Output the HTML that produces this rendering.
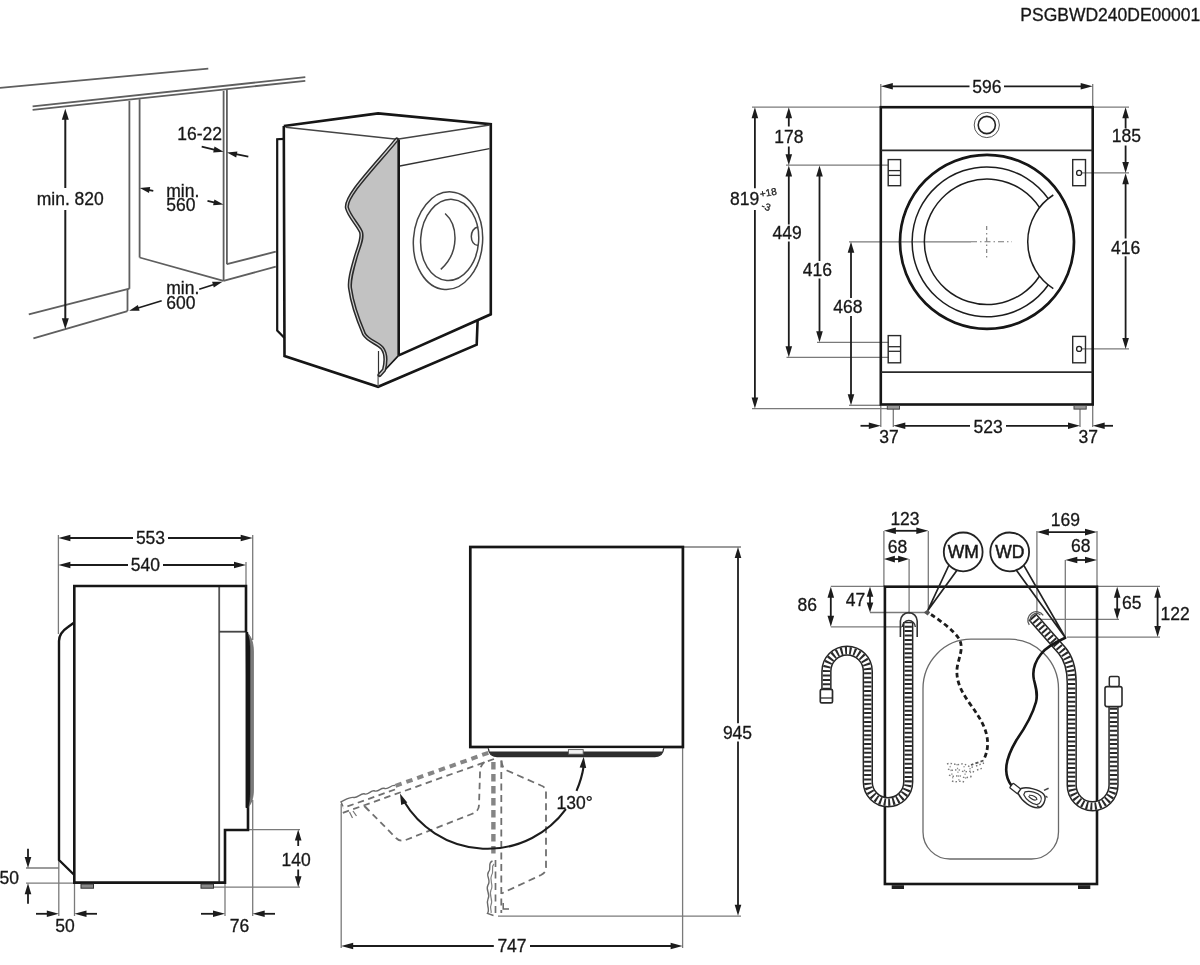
<!DOCTYPE html>
<html><head><meta charset="utf-8"><title>Dimensions</title>
<style>
html,body{margin:0;padding:0;background:#fff;}
body{width:1200px;height:965px;overflow:hidden;}
svg{display:block;}
text{font-family:"Liberation Sans",sans-serif;fill:#181818;stroke:#181818;stroke-width:0.3px;}
</style></head><body>
<svg width="1200" height="965" viewBox="0 0 1200 965">
<defs><filter id="soft" filterUnits="userSpaceOnUse" x="0" y="0" width="1200" height="965"><feGaussianBlur stdDeviation="0.5"/></filter></defs>
<rect width="1200" height="965" fill="#fff"/>
<g filter="url(#soft)">
<rect width="1200" height="965" fill="#fff"/>
<text x="1020.3" y="21.3" font-size="17.5" text-anchor="start" >PSGBWD240DE00001</text>
<g id="p1">
<line x1="0.0" y1="87.8" x2="208.3" y2="68.7" stroke="#5e5e5e" stroke-width="1.8" />
<line x1="32.6" y1="106.3" x2="305.3" y2="77.2" stroke="#5e5e5e" stroke-width="1.8" />
<line x1="32.6" y1="109.9" x2="305.3" y2="80.8" stroke="#5e5e5e" stroke-width="1.8" />
<line x1="129.4" y1="100.8" x2="129.4" y2="288.8" stroke="#5e5e5e" stroke-width="1.8" />
<line x1="127.5" y1="289.0" x2="127.5" y2="311.0" stroke="#5e5e5e" stroke-width="1.8" />
<line x1="28.8" y1="314.3" x2="129.4" y2="288.7" stroke="#5e5e5e" stroke-width="1.8" />
<line x1="33.4" y1="338.3" x2="127.5" y2="311.1" stroke="#5e5e5e" stroke-width="1.8" />
<line x1="139.6" y1="99.2" x2="139.6" y2="257.5" stroke="#5e5e5e" stroke-width="1.8" />
<line x1="139.6" y1="257.5" x2="223.5" y2="280.8" stroke="#5e5e5e" stroke-width="1.8" />
<line x1="223.6" y1="90.8" x2="223.6" y2="280.8" stroke="#5e5e5e" stroke-width="1.8" />
<line x1="226.9" y1="90.0" x2="226.9" y2="264.2" stroke="#5e5e5e" stroke-width="1.8" />
<line x1="226.9" y1="264.2" x2="275.8" y2="251.7" stroke="#5e5e5e" stroke-width="1.8" />
<line x1="223.5" y1="280.8" x2="275.8" y2="266.7" stroke="#5e5e5e" stroke-width="1.8" />
<line x1="65.3" y1="118.0" x2="65.3" y2="188.0" stroke="#1c1c1c" stroke-width="2.0" />
<line x1="65.3" y1="210.0" x2="65.3" y2="319.0" stroke="#1c1c1c" stroke-width="2.0" />
<polygon points="65.3,108.8 68.8,119.8 61.8,119.8" fill="#1c1c1c"/>
<polygon points="65.3,329.3 61.8,318.3 68.8,318.3" fill="#1c1c1c"/>
<text x="36.7" y="204.6" font-size="17.5" text-anchor="start" >min. 820</text>
<text x="177.3" y="140.4" font-size="17.5" text-anchor="start" >16-22</text>
<line x1="201.7" y1="146.7" x2="215.0" y2="149.8" stroke="#1c1c1c" stroke-width="1.7" />
<polygon points="223.6,151.7 213.2,152.4 214.5,146.5" fill="#1c1c1c"/>
<line x1="248.3" y1="156.7" x2="236.0" y2="154.2" stroke="#1c1c1c" stroke-width="1.7" />
<polygon points="227.0,152.4 237.4,151.5 236.2,157.4" fill="#1c1c1c"/>
<text x="166.3" y="196.5" font-size="17.5" text-anchor="start" >min.</text>
<text x="166.3" y="211.3" font-size="17.5" text-anchor="start" >560</text>
<line x1="153.3" y1="190.8" x2="148.0" y2="189.8" stroke="#1c1c1c" stroke-width="1.7" />
<polygon points="139.8,188.0 150.2,187.1 149.0,193.0" fill="#1c1c1c"/>
<line x1="207.5" y1="200.8" x2="215.0" y2="202.6" stroke="#1c1c1c" stroke-width="1.7" />
<polygon points="223.5,204.6 213.1,205.3 214.4,199.4" fill="#1c1c1c"/>
<text x="166.3" y="294.2" font-size="17.5" text-anchor="start" >min.</text>
<text x="166.3" y="309.3" font-size="17.5" text-anchor="start" >600</text>
<line x1="138.0" y1="308.0" x2="161.7" y2="300.8" stroke="#1c1c1c" stroke-width="1.7" />
<polygon points="129.2,310.8 137.9,305.0 139.6,310.7" fill="#1c1c1c"/>
<line x1="199.2" y1="289.2" x2="214.0" y2="284.5" stroke="#1c1c1c" stroke-width="1.7" />
<polygon points="222.5,281.7 213.8,287.5 212.1,281.8" fill="#1c1c1c"/>
<path d="M284.5,138.8 L277.2,139.2 L277.2,330.5 L284.5,338" stroke="#141414" stroke-width="2.2" fill="none" />
<path d="M396.8,139.5 C385,154 368,172 356,188 C348,199 346,204 347,208 C349,216 358,225 361,232 C363,238 359,246 356,256 C352,270 349,280 350,288 C352,303 358,320 364,334 C368,341 378,343 382,348 C386,353 386,362 384,370 L381,374 L398.7,355.4 L398.7,139.5 Z" stroke="none" stroke-width="0" fill="#c2c2c2" />
<path d="M283.8,126 L378.1,113.4 L490.8,124.3 L490.8,314.3 L398.7,355.4" stroke="#141414" stroke-width="2.6" fill="none" stroke-linejoin="miter"/>
<path d="M283.8,126 L284.5,356 L378.1,386.8 L476.7,344.6 L477.6,320.5" stroke="#141414" stroke-width="2.6" fill="none" stroke-linejoin="miter"/>
<line x1="398.7" y1="139.5" x2="398.7" y2="355.4" stroke="#141414" stroke-width="2.6" />
<line x1="285.5" y1="127.2" x2="397.0" y2="139.2" stroke="#444" stroke-width="1.4" />
<line x1="397.0" y1="139.2" x2="489.7" y2="125.0" stroke="#444" stroke-width="1.4" />
<line x1="399.8" y1="166.0" x2="489.5" y2="148.6" stroke="#333" stroke-width="1.3" />
<line x1="378.1" y1="375.0" x2="378.1" y2="386.8" stroke="#555" stroke-width="1.2" />
<line x1="398.7" y1="355.4" x2="384.0" y2="371.0" stroke="#141414" stroke-width="1.6" />
<path d="M396.8,139.5 C385,154 368,172 356,188 C348,199 346,204 347,208 C349,216 358,225 361,232 C363,238 359,246 356,256 C352,270 349,280 350,288 C352,303 358,320 364,334 C368,341 378,343 382,348 C386,353 386,362 384,370 L379.5,375" stroke="#2a2a2a" stroke-width="4.2" fill="none" stroke-linejoin="round" stroke-linecap="round"/>
<path d="M396.8,139.5 C385,154 368,172 356,188 C348,199 346,204 347,208 C349,216 358,225 361,232 C363,238 359,246 356,256 C352,270 349,280 350,288 C352,303 358,320 364,334 C368,341 378,343 382,348 C386,353 386,362 384,370 L379.5,375" stroke="#d0d0d0" stroke-width="1.2" fill="none" stroke-linejoin="round"/>
<line x1="378.5" y1="351.0" x2="378.5" y2="375.0" stroke="#333" stroke-width="1.2" />
<g transform="rotate(4 448 240.7)" fill="none" stroke="#444" stroke-width="1.5">
<ellipse cx="448" cy="240.7" rx="34.6" ry="48.9"/>
<ellipse cx="449.6" cy="239.8" rx="29" ry="40.6"/>
</g>
<path d="M445.1,213.5 C458,225 460,252 440.8,269.4" stroke="#444" stroke-width="1.5" fill="none" />
<path d="M478.2,227 C469,228 469,245 478.2,245.6" stroke="#444" stroke-width="1.5" fill="none" />
</g>
<g id="p2">
<line x1="880.8" y1="84.0" x2="880.8" y2="107.2" stroke="#7a7a7a" stroke-width="1.3" />
<line x1="1092.7" y1="84.0" x2="1092.7" y2="107.2" stroke="#7a7a7a" stroke-width="1.3" />
<line x1="752.0" y1="107.2" x2="880.8" y2="107.2" stroke="#7a7a7a" stroke-width="1.3" />
<line x1="1092.7" y1="107.2" x2="1129.0" y2="107.2" stroke="#7a7a7a" stroke-width="1.3" />
<line x1="786.0" y1="165.2" x2="888.0" y2="165.2" stroke="#7a7a7a" stroke-width="1.3" />
<line x1="817.0" y1="342.3" x2="888.6" y2="342.3" stroke="#7a7a7a" stroke-width="1.3" />
<line x1="786.5" y1="357.3" x2="888.6" y2="357.3" stroke="#7a7a7a" stroke-width="1.3" />
<line x1="849.0" y1="241.8" x2="971.0" y2="241.8" stroke="#7a7a7a" stroke-width="1.3" />
<line x1="849.0" y1="405.3" x2="880.8" y2="405.3" stroke="#7a7a7a" stroke-width="1.3" />
<line x1="752.0" y1="408.6" x2="899.0" y2="408.6" stroke="#7a7a7a" stroke-width="1.3" />
<line x1="1082.0" y1="172.9" x2="1129.0" y2="172.9" stroke="#7a7a7a" stroke-width="1.3" />
<line x1="1082.0" y1="348.9" x2="1129.0" y2="348.9" stroke="#7a7a7a" stroke-width="1.3" />
<line x1="880.8" y1="404.5" x2="880.8" y2="427.0" stroke="#7a7a7a" stroke-width="1.3" />
<line x1="893.3" y1="409.0" x2="893.3" y2="427.0" stroke="#7a7a7a" stroke-width="1.3" />
<line x1="1080.0" y1="409.0" x2="1080.0" y2="427.0" stroke="#7a7a7a" stroke-width="1.3" />
<line x1="1092.7" y1="404.5" x2="1092.7" y2="427.0" stroke="#7a7a7a" stroke-width="1.3" />
<rect x="880.8" y="107.2" width="211.9" height="297.3" fill="none" stroke="#141414" stroke-width="2.6"/>
<line x1="880.8" y1="150.4" x2="1092.7" y2="150.4" stroke="#2a2a2a" stroke-width="1.8" />
<line x1="880.8" y1="372.1" x2="1092.7" y2="372.1" stroke="#2a2a2a" stroke-width="1.8" />
<rect x="887.3" y="405.5" width="12.2" height="3.6" fill="#999" stroke="#444" stroke-width="1"/>
<rect x="1074" y="405.5" width="12.2" height="3.6" fill="#999" stroke="#444" stroke-width="1"/>
<circle cx="986.8" cy="125" r="12.6" fill="none" stroke="#555" stroke-width="1"/>
<circle cx="986.8" cy="125" r="8.6" fill="none" stroke="#222" stroke-width="1.6"/>
<rect x="888.2" y="159.6" width="12.4" height="26.1" fill="none" stroke="#2a2a2a" stroke-width="1.4"/>
<line x1="888.2" y1="170.6" x2="900.6" y2="170.6" stroke="#2a2a2a" stroke-width="1.3" />
<line x1="888.2" y1="175.4" x2="900.6" y2="175.4" stroke="#2a2a2a" stroke-width="1.3" />
<rect x="888.2" y="335.6" width="12.4" height="27.2" fill="none" stroke="#2a2a2a" stroke-width="1.4"/>
<line x1="888.2" y1="346.7" x2="900.6" y2="346.7" stroke="#2a2a2a" stroke-width="1.3" />
<line x1="888.2" y1="351.3" x2="900.6" y2="351.3" stroke="#2a2a2a" stroke-width="1.3" />
<rect x="1072.7" y="159.6" width="12.8" height="26.1" fill="none" stroke="#2a2a2a" stroke-width="1.4"/>
<circle cx="1079.1" cy="172.9" r="2.5" fill="none" stroke="#222" stroke-width="1.3"/>
<rect x="1072.7" y="336.4" width="12.8" height="26.4" fill="none" stroke="#2a2a2a" stroke-width="1.4"/>
<circle cx="1079.1" cy="348.9" r="2.5" fill="none" stroke="#222" stroke-width="1.3"/>
<circle cx="987" cy="241.8" r="87" fill="none" stroke="#141414" stroke-width="2.7"/>
<path d="M1048.4,198.9 A74.9,74.9 0 1 0 1048.4,284.7" stroke="#1e1e1e" stroke-width="1.5" fill="none" />
<path d="M1039.6,207.6 A62.7,62.7 0 1 0 1039.6,276.0" stroke="#1e1e1e" stroke-width="1.5" fill="none" />
<path d="M1053.3,195.0 A55.6,55.6 0 0 0 1053.3,288.6" stroke="#1e1e1e" stroke-width="1.5" fill="none" />
<line x1="986.7" y1="226.0" x2="986.7" y2="258.0" stroke="#777" stroke-width="1.1" stroke-dasharray="4 3 1.5 3"/>
<line x1="971.0" y1="241.8" x2="1012.0" y2="241.8" stroke="#777" stroke-width="1.1" stroke-dasharray="6 3 1.5 3"/>
<line x1="891.8" y1="86.3" x2="969.5" y2="86.3" stroke="#1c1c1c" stroke-width="1.8" />
<line x1="1004.0" y1="86.3" x2="1081.7" y2="86.3" stroke="#1c1c1c" stroke-width="1.8" />
<polygon points="880.8,86.3 892.8,83.0 892.8,89.6" fill="#1c1c1c"/>
<polygon points="1092.7,86.3 1080.7,89.6 1080.7,83.0" fill="#1c1c1c"/>
<text x="986.9" y="93.0" font-size="17.5" text-anchor="middle" >596</text>
<line x1="754.9" y1="118.0" x2="754.9" y2="188.3" stroke="#1c1c1c" stroke-width="1.8" />
<line x1="754.9" y1="210.0" x2="754.9" y2="398.0" stroke="#1c1c1c" stroke-width="1.8" />
<polygon points="754.9,107.2 758.2,118.2 751.6,118.2" fill="#1c1c1c"/>
<polygon points="754.9,408.6 751.6,397.6 758.2,397.6" fill="#1c1c1c"/>
<text x="730.0" y="204.6" font-size="17.5" text-anchor="start" >819</text>
<text x="760.5" y="197.5" font-size="10" text-anchor="start" transform="rotate(-10 760.5 197.5)">+18</text>
<text x="760.8" y="208.5" font-size="10" text-anchor="start" transform="rotate(18 760.8 208.5)">-3</text>
<line x1="788.8" y1="117.2" x2="788.8" y2="126.5" stroke="#1c1c1c" stroke-width="1.8" />
<line x1="788.8" y1="146.5" x2="788.8" y2="155.2" stroke="#1c1c1c" stroke-width="1.8" />
<polygon points="788.8,107.2 792.1,118.2 785.5,118.2" fill="#1c1c1c"/>
<polygon points="788.8,165.2 785.5,154.2 792.1,154.2" fill="#1c1c1c"/>
<text x="788.8" y="143.2" font-size="17.5" text-anchor="middle" >178</text>
<line x1="788.8" y1="175.6" x2="788.8" y2="224.5" stroke="#1c1c1c" stroke-width="1.8" />
<line x1="788.8" y1="241.5" x2="788.8" y2="347.3" stroke="#1c1c1c" stroke-width="1.8" />
<polygon points="788.8,165.6 792.1,176.6 785.5,176.6" fill="#1c1c1c"/>
<polygon points="788.8,357.3 785.5,346.3 792.1,346.3" fill="#1c1c1c"/>
<text x="787.2" y="239.2" font-size="17.5" text-anchor="middle" >449</text>
<line x1="819.5" y1="175.6" x2="819.5" y2="261.0" stroke="#1c1c1c" stroke-width="1.8" />
<line x1="819.5" y1="278.5" x2="819.5" y2="332.3" stroke="#1c1c1c" stroke-width="1.8" />
<polygon points="819.5,165.6 822.8,176.6 816.2,176.6" fill="#1c1c1c"/>
<polygon points="819.5,342.3 816.2,331.3 822.8,331.3" fill="#1c1c1c"/>
<text x="817.3" y="276.3" font-size="17.5" text-anchor="middle" >416</text>
<line x1="851.0" y1="251.8" x2="851.0" y2="298.0" stroke="#1c1c1c" stroke-width="1.8" />
<line x1="851.0" y1="316.0" x2="851.0" y2="395.3" stroke="#1c1c1c" stroke-width="1.8" />
<polygon points="851.0,241.8 854.3,252.8 847.7,252.8" fill="#1c1c1c"/>
<polygon points="851.0,405.3 847.7,394.3 854.3,394.3" fill="#1c1c1c"/>
<text x="847.9" y="313.2" font-size="17.5" text-anchor="middle" >468</text>
<line x1="1125.6" y1="117.2" x2="1125.6" y2="128.5" stroke="#1c1c1c" stroke-width="1.8" />
<line x1="1125.6" y1="145.5" x2="1125.6" y2="162.9" stroke="#1c1c1c" stroke-width="1.8" />
<polygon points="1125.6,107.2 1128.9,118.2 1122.3,118.2" fill="#1c1c1c"/>
<polygon points="1125.6,172.9 1122.3,161.9 1128.9,161.9" fill="#1c1c1c"/>
<text x="1126.3" y="142.4" font-size="17.5" text-anchor="middle" >185</text>
<line x1="1125.6" y1="183.3" x2="1125.6" y2="238.5" stroke="#1c1c1c" stroke-width="1.8" />
<line x1="1125.6" y1="256.3" x2="1125.6" y2="338.9" stroke="#1c1c1c" stroke-width="1.8" />
<polygon points="1125.6,173.3 1128.9,184.3 1122.3,184.3" fill="#1c1c1c"/>
<polygon points="1125.6,348.9 1122.3,337.9 1128.9,337.9" fill="#1c1c1c"/>
<text x="1125.6" y="253.6" font-size="17.5" text-anchor="middle" >416</text>
<line x1="904.3" y1="425.8" x2="970.0" y2="425.8" stroke="#1c1c1c" stroke-width="1.8" />
<line x1="1006.0" y1="425.8" x2="1069.0" y2="425.8" stroke="#1c1c1c" stroke-width="1.8" />
<polygon points="893.3,425.8 905.3,422.5 905.3,429.1" fill="#1c1c1c"/>
<polygon points="1080.0,425.8 1068.0,429.1 1068.0,422.5" fill="#1c1c1c"/>
<text x="988.2" y="433.0" font-size="17.5" text-anchor="middle" >523</text>
<line x1="860.5" y1="425.8" x2="870.0" y2="425.8" stroke="#1c1c1c" stroke-width="1.8" />
<polygon points="880.8,425.8 868.8,429.1 868.8,422.5" fill="#1c1c1c"/>
<line x1="1113.0" y1="425.8" x2="1104.0" y2="425.8" stroke="#1c1c1c" stroke-width="1.8" />
<polygon points="1092.7,425.8 1104.7,422.5 1104.7,429.1" fill="#1c1c1c"/>
<text x="879.3" y="442.5" font-size="17.5" text-anchor="start" >37</text>
<text x="1078.6" y="442.5" font-size="17.5" text-anchor="start" >37</text>
</g>
<g id="p3">
<line x1="58.4" y1="535.0" x2="58.4" y2="634.0" stroke="#7a7a7a" stroke-width="1.3" />
<line x1="252.7" y1="535.0" x2="252.7" y2="640.0" stroke="#7a7a7a" stroke-width="1.3" />
<line x1="252.7" y1="800.0" x2="252.7" y2="916.0" stroke="#7a7a7a" stroke-width="1.3" />
<line x1="246.0" y1="562.0" x2="246.0" y2="586.0" stroke="#7a7a7a" stroke-width="1.3" />
<line x1="58.8" y1="860.0" x2="58.8" y2="916.0" stroke="#7a7a7a" stroke-width="1.3" />
<line x1="74.5" y1="883.0" x2="74.5" y2="916.0" stroke="#7a7a7a" stroke-width="1.3" />
<line x1="225.0" y1="883.0" x2="225.0" y2="916.0" stroke="#7a7a7a" stroke-width="1.3" />
<line x1="26.0" y1="868.0" x2="59.0" y2="868.0" stroke="#7a7a7a" stroke-width="1.3" />
<line x1="26.0" y1="883.2" x2="74.5" y2="883.2" stroke="#7a7a7a" stroke-width="1.3" />
<line x1="248.0" y1="829.6" x2="300.0" y2="829.6" stroke="#7a7a7a" stroke-width="1.3" />
<line x1="212.0" y1="887.2" x2="300.0" y2="887.2" stroke="#7a7a7a" stroke-width="1.3" />
<line x1="219.2" y1="586.0" x2="219.2" y2="882.5" stroke="#555" stroke-width="1.8" />
<line x1="219.2" y1="631.7" x2="246.0" y2="631.7" stroke="#444" stroke-width="1.8" />
<path d="M74.3,882.6 L74.3,586 L246,586 L246,632" stroke="#141414" stroke-width="2.6" fill="none" stroke-linejoin="miter"/>
<path d="M73,882.6 L225,882.6 L225,830 L248,830 L248,806" stroke="#141414" stroke-width="2.6" fill="none" stroke-linejoin="miter"/>
<path d="M74.3,622.5 L68,627 C62,631 59,635 59,641 L59,860 L74.3,875" stroke="#141414" stroke-width="2.4" fill="none" stroke-linejoin="round"/>
<path d="M246,632 C250.5,635 253.4,641 253.4,652 L253.4,790 C253.4,799 251,804 248,807.5 Z" stroke="#666" stroke-width="0.8" fill="#7c7c7c" />
<path d="M246,632 C248.5,634.5 250,640 250,650 L250,792 C250,799 249,804 248,807.5 L246,807.5 Z" stroke="#141414" stroke-width="0.6" fill="#141414" />
<line x1="247.0" y1="632.0" x2="247.0" y2="808.0" stroke="#141414" stroke-width="2.4" />
<rect x="81" y="884" width="12.5" height="4.2" fill="#888" stroke="#333" stroke-width="1"/>
<rect x="201" y="884" width="12.5" height="4.2" fill="#888" stroke="#333" stroke-width="1"/>
<line x1="69.4" y1="538.0" x2="133.0" y2="538.0" stroke="#1c1c1c" stroke-width="1.8" />
<line x1="168.0" y1="538.0" x2="241.7" y2="538.0" stroke="#1c1c1c" stroke-width="1.8" />
<polygon points="58.4,538.0 70.4,534.7 70.4,541.3" fill="#1c1c1c"/>
<polygon points="252.7,538.0 240.7,541.3 240.7,534.7" fill="#1c1c1c"/>
<text x="150.5" y="544.0" font-size="17.5" text-anchor="middle" >553</text>
<line x1="69.4" y1="565.0" x2="128.0" y2="565.0" stroke="#1c1c1c" stroke-width="1.8" />
<line x1="163.0" y1="565.0" x2="235.0" y2="565.0" stroke="#1c1c1c" stroke-width="1.8" />
<polygon points="58.4,565.0 70.4,561.7 70.4,568.3" fill="#1c1c1c"/>
<polygon points="246.0,565.0 234.0,568.3 234.0,561.7" fill="#1c1c1c"/>
<text x="145.3" y="571.0" font-size="17.5" text-anchor="middle" >540</text>
<line x1="28.0" y1="848.8" x2="28.0" y2="858.0" stroke="#1c1c1c" stroke-width="1.8" />
<polygon points="28.0,868.0 24.7,857.0 31.3,857.0" fill="#1c1c1c"/>
<line x1="28.0" y1="903.8" x2="28.0" y2="894.0" stroke="#1c1c1c" stroke-width="1.8" />
<polygon points="28.0,883.2 31.3,894.2 24.7,894.2" fill="#1c1c1c"/>
<text x="-0.5" y="883.6" font-size="17.5" text-anchor="start" >50</text>
<line x1="36.0" y1="913.8" x2="48.0" y2="913.8" stroke="#1c1c1c" stroke-width="1.8" />
<polygon points="58.8,913.8 46.8,917.1 46.8,910.5" fill="#1c1c1c"/>
<line x1="97.0" y1="913.8" x2="86.0" y2="913.8" stroke="#1c1c1c" stroke-width="1.8" />
<polygon points="74.5,913.8 86.5,910.5 86.5,917.1" fill="#1c1c1c"/>
<text x="55.3" y="932.0" font-size="17.5" text-anchor="start" >50</text>
<line x1="201.0" y1="913.8" x2="214.0" y2="913.8" stroke="#1c1c1c" stroke-width="1.8" />
<polygon points="225.0,913.8 213.0,917.1 213.0,910.5" fill="#1c1c1c"/>
<line x1="275.0" y1="913.8" x2="264.0" y2="913.8" stroke="#1c1c1c" stroke-width="1.8" />
<polygon points="252.7,913.8 264.7,910.5 264.7,917.1" fill="#1c1c1c"/>
<text x="229.8" y="932.0" font-size="17.5" text-anchor="start" >76</text>
<line x1="298.2" y1="839.6" x2="298.2" y2="846.0" stroke="#1c1c1c" stroke-width="1.8" />
<line x1="298.2" y1="869.5" x2="298.2" y2="877.2" stroke="#1c1c1c" stroke-width="1.8" />
<polygon points="298.2,829.6 301.5,840.6 294.9,840.6" fill="#1c1c1c"/>
<polygon points="298.2,887.2 294.9,876.2 301.5,876.2" fill="#1c1c1c"/>
<text x="296.2" y="865.6" font-size="17.5" text-anchor="middle" >140</text>
</g>
<g id="p4">
<line x1="683.0" y1="547.0" x2="741.0" y2="547.0" stroke="#7a7a7a" stroke-width="1.3" />
<line x1="682.6" y1="747.0" x2="682.6" y2="948.0" stroke="#7a7a7a" stroke-width="1.3" />
<line x1="498.0" y1="916.2" x2="741.0" y2="916.2" stroke="#7a7a7a" stroke-width="1.3" />
<line x1="341.2" y1="804.0" x2="341.2" y2="948.0" stroke="#7a7a7a" stroke-width="1.3" />
<rect x="470.3" y="547" width="212.6" height="200" fill="none" stroke="#141414" stroke-width="2.7"/>
<path d="M488.3,748.3 C488.8,753 491,756.6 497,756.6 L655,756.6 C661,756.6 663.2,753 663.7,748.3" stroke="#2a2a2a" stroke-width="1.3" fill="#fff" />
<path d="M489.6,751.6 L662.4,751.6 C661.5,754.8 659.5,756.6 655,756.6 L497,756.6 C492.5,756.6 490.5,754.8 489.6,751.6 Z" stroke="none" stroke-width="0" fill="#2e2e2e" />
<rect x="568.4" y="749.6" width="14.8" height="4.6" fill="#f2f2f2" stroke="#555" stroke-width="0.9"/>
<line x1="488.3" y1="752.8" x2="395.0" y2="786.0" stroke="#858585" stroke-width="4" stroke-dasharray="6.5 5"/>
<line x1="494.0" y1="759.0" x2="341.7" y2="813.3" stroke="#707070" stroke-width="1.8" stroke-dasharray="6.5 4.5"/>
<line x1="395.0" y1="789.5" x2="343.0" y2="808.0" stroke="#707070" stroke-width="1.8" stroke-dasharray="6.5 4.5"/>
<path d="M395,785.5 C391,784.5 389,789.5 385,788.5 C381,787 379,792 375,791 C371,789.5 369,795 365,794 C361,792.5 358,798 354,797.5 C350,796.5 346,799.5 341,801.8 L343,806.5" stroke="#6a6a6a" stroke-width="1.4" fill="none" />
<line x1="349.5" y1="812.0" x2="352.5" y2="818.0" stroke="#777" stroke-width="1.3" />
<line x1="353.0" y1="811.0" x2="356.5" y2="816.0" stroke="#777" stroke-width="1.3" />
<line x1="364.0" y1="806.0" x2="368.5" y2="810.5" stroke="#777" stroke-width="1.3" />
<path d="M484.5,762 C481,765 480,768 480,773 L479,805 C479,810 476,812.5 471.7,814 L407,839.5 C402,841.5 399,841 396,838 L365,806.5" stroke="#707070" stroke-width="1.8" fill="none" stroke-dasharray="6.5 4.5"/>
<line x1="493.4" y1="762.0" x2="493.4" y2="858.0" stroke="#858585" stroke-width="4.4" stroke-dasharray="7.5 4.5"/>
<line x1="501.3" y1="760.5" x2="501.3" y2="913.0" stroke="#707070" stroke-width="1.8" stroke-dasharray="7 4.5"/>
<line x1="495.5" y1="860.0" x2="495.5" y2="913.0" stroke="#707070" stroke-width="1.7" stroke-dasharray="7 4.5"/>
<path d="M501.5,760.7 C502,766 503,768.5 507,770.5 L541,785.5 C545,787 546,789 546,793 L546,867 C546,871 545,873 541,875 L501.5,893.5" stroke="#707070" stroke-width="1.8" fill="none" stroke-dasharray="7 4.5"/>
<path d="M492.5,861 C487,863 492,868 488.5,872 C485.5,876 491.5,880 488,885 C485,890 491,894 488,899 C485.5,904 490.5,909 487.5,913.5 L493.5,915.5" stroke="#6a6a6a" stroke-width="1.4" fill="none" />
<path d="M494,864 C490.5,867 494.5,871 491.5,875.5 C489,880 494,885 491,890 C488.5,895 493.5,900 491,905 C489.5,908 492,911 491,913" stroke="#808080" stroke-width="1.2" fill="none" />
<path d="M503.2,903 L503.2,909 L509,909" stroke="#666" stroke-width="1.5" fill="none" />
<path d="M583.7,766.0 A97.3,97.3 0 0 1 576.5,790.8" stroke="#1c1c1c" stroke-width="2.1" fill="none" />
<path d="M565.9,809.1 A97.3,97.3 0 0 1 403.9,801.3" stroke="#1c1c1c" stroke-width="2.1" fill="none" />
<polygon points="583.7,756.8 586.2,768.0 579.6,767.5" fill="#1c1c1c"/>
<polygon points="400.0,793.5 407.3,802.4 401.2,804.9" fill="#1c1c1c"/>
<text x="556.5" y="808.6" font-size="17.5" text-anchor="start" >130°</text>
<line x1="738.0" y1="557.0" x2="738.0" y2="723.3" stroke="#1c1c1c" stroke-width="1.8" />
<line x1="738.0" y1="741.5" x2="738.0" y2="905.8" stroke="#1c1c1c" stroke-width="1.8" />
<polygon points="738.0,547.0 741.3,558.0 734.7,558.0" fill="#1c1c1c"/>
<polygon points="738.0,915.8 734.7,904.8 741.3,904.8" fill="#1c1c1c"/>
<text x="737.5" y="738.6" font-size="17.5" text-anchor="middle" >945</text>
<line x1="352.2" y1="946.0" x2="493.8" y2="946.0" stroke="#1c1c1c" stroke-width="1.8" />
<line x1="530.0" y1="946.0" x2="671.6" y2="946.0" stroke="#1c1c1c" stroke-width="1.8" />
<polygon points="341.2,946.0 353.2,942.7 353.2,949.3" fill="#1c1c1c"/>
<polygon points="682.6,946.0 670.6,949.3 670.6,942.7" fill="#1c1c1c"/>
<text x="512.0" y="952.3" font-size="17.5" text-anchor="middle" >747</text>
</g>
<g id="p5">
<line x1="883.9" y1="531.0" x2="883.9" y2="586.7" stroke="#7a7a7a" stroke-width="1.3" />
<line x1="928.3" y1="531.0" x2="928.3" y2="610.0" stroke="#7a7a7a" stroke-width="1.3" />
<line x1="909.1" y1="559.0" x2="909.1" y2="614.0" stroke="#7a7a7a" stroke-width="1.3" />
<line x1="830.8" y1="586.4" x2="884.9" y2="586.4" stroke="#7a7a7a" stroke-width="1.3" />
<line x1="870.0" y1="612.5" x2="927.0" y2="612.5" stroke="#7a7a7a" stroke-width="1.3" />
<line x1="830.8" y1="626.8" x2="902.0" y2="626.8" stroke="#7a7a7a" stroke-width="1.3" />
<line x1="1036.9" y1="531.0" x2="1036.9" y2="614.0" stroke="#7a7a7a" stroke-width="1.3" />
<line x1="1097.0" y1="531.0" x2="1097.0" y2="586.7" stroke="#7a7a7a" stroke-width="1.3" />
<line x1="1065.3" y1="560.0" x2="1065.3" y2="638.0" stroke="#7a7a7a" stroke-width="1.3" />
<line x1="1097.0" y1="586.4" x2="1160.0" y2="586.4" stroke="#7a7a7a" stroke-width="1.3" />
<line x1="1037.3" y1="619.4" x2="1119.0" y2="619.4" stroke="#7a7a7a" stroke-width="1.3" />
<line x1="1067.0" y1="637.1" x2="1160.0" y2="637.1" stroke="#7a7a7a" stroke-width="1.3" />
<path d="M971,639.2 L1009.5,639.2 A49,49.5 0 0 1 1058.5,688.7 L1058.5,832 A27,27 0 0 1 1031.5,859 L950,859 A27,27 0 0 1 923,832 L923,688.7 A48,49.5 0 0 1 971,639.2 Z" stroke="#6a6a6a" stroke-width="1.3" fill="none" />
<rect x="884.9" y="586.7" width="212.1" height="297.3" fill="none" stroke="#141414" stroke-width="2.6"/>
<rect x="891.7" y="885.2" width="12.3" height="3.8" fill="#222"/>
<rect x="1078" y="885.2" width="12.3" height="3.8" fill="#222"/>
<path d="M826.4,703 L826.4,671.3 A20.7,20.7 0 0 1 867.8,671.3 L867.8,782 A20.2,20.2 0 0 0 908.2,782 L908.2,622" stroke="#262626" stroke-width="10.4" fill="none" stroke-linecap="butt"/>
<path d="M826.4,703 L826.4,671.3 A20.7,20.7 0 0 1 867.8,671.3 L867.8,782 A20.2,20.2 0 0 0 908.2,782 L908.2,622" stroke="#fff" stroke-width="7.4" fill="none" stroke-linecap="butt"/>
<path d="M826.4,703 L826.4,671.3 A20.7,20.7 0 0 1 867.8,671.3 L867.8,782 A20.2,20.2 0 0 0 908.2,782 L908.2,622" stroke="#2a2a2a" stroke-width="7.4" fill="none" stroke-dasharray="2 2.42" stroke-linecap="butt"/>
<rect x="820.3" y="689.3" width="12.2" height="13.6" rx="1.5" fill="#fff" stroke="#2a2a2a" stroke-width="1.7"/>
<line x1="820.3" y1="698.0" x2="832.5" y2="698.0" stroke="#2a2a2a" stroke-width="1.3" />
<path d="M900.4,637 L900.4,621 A8.4,8.4 0 0 1 917.2,621 L917.2,637" stroke="#333" stroke-width="1.6" fill="none" />
<path d="M902.3,627 A6.5,6.5 0 0 1 915.3,627" stroke="#333" stroke-width="1.4" fill="none" />
<path d="M1032.3,616.8 L1062,650.5 C1068,657.5 1071.7,668 1071.7,683 L1071.7,785.3 A20.9,20.9 0 0 0 1113.5,785.3 L1113.5,707" stroke="#262626" stroke-width="10.4" fill="none" stroke-linecap="butt"/>
<path d="M1032.3,616.8 L1062,650.5 C1068,657.5 1071.7,668 1071.7,683 L1071.7,785.3 A20.9,20.9 0 0 0 1113.5,785.3 L1113.5,707" stroke="#fff" stroke-width="7.4" fill="none" stroke-linecap="butt"/>
<path d="M1032.3,616.8 L1062,650.5 C1068,657.5 1071.7,668 1071.7,683 L1071.7,785.3 A20.9,20.9 0 0 0 1113.5,785.3 L1113.5,707" stroke="#2a2a2a" stroke-width="7.4" fill="none" stroke-dasharray="2 2.42" stroke-linecap="butt"/>
<path d="M1029.3,624.9 A8.3,8.3 0 0 1 1043.2,615.4" stroke="#555" stroke-width="1.3" fill="none" />
<path d="M1030.6,621.8 A6.2,6.2 0 0 1 1040.4,615" stroke="#555" stroke-width="1.2" fill="none" />
<rect x="1105" y="686.6" width="17" height="20" rx="2" fill="#fff" stroke="#2a2a2a" stroke-width="1.6"/>
<rect x="1109.3" y="676.4" width="9.8" height="10.2" rx="1.5" fill="#fff" stroke="#2a2a2a" stroke-width="1.5"/>
<circle cx="963.2" cy="551.9" r="19.4" fill="#fff" stroke="#222" stroke-width="1.8"/>
<path d="M949,565 L927.8,610.4 L957,570.2" stroke="#222" stroke-width="1.7" fill="none" stroke-linejoin="round"/>
<text x="963.4" y="558.2" font-size="17.5" text-anchor="middle" style="stroke-width:0.5px">WM</text>
<circle cx="1009.7" cy="551.9" r="19.4" fill="#fff" stroke="#222" stroke-width="1.8"/>
<path d="M1016.4,570.3 L1065.6,638 L1023.8,565.3" stroke="#222" stroke-width="1.7" fill="none" stroke-linejoin="round"/>
<text x="1009.9" y="558.2" font-size="17.5" text-anchor="middle" style="stroke-width:0.5px">WD</text>
<polygon points="923.8,612.6 927.6,609.6 930.2,612.6 927.6,615.6" fill="#555"/>
<path d="M931,614.5 C941,621 953,630 958.5,638 C965,648 958,658 957,669 C956,682 962,692 968,701 C975,711 981,719 984.5,728 C988.5,738 989,749 984,759" stroke="#1c1c1c" stroke-width="2.8" fill="none" stroke-dasharray="4.8 3.2"/>
<path d="M983.5,760.5 L971,765" stroke="#555" stroke-width="1.8" fill="none" stroke-dasharray="3.2 2.2"/>
<path d="M947,764 C952,762 956,766 961,764 C966,763 969,768 973,767 M948,769 C953,772 957,768 962,771 C966,773 970,770 974,772 M949,775 C954,778 958,774 963,777 C966,779 969,776 972,777 M952,781 C956,783 960,780 964,782 M976,766 L984,763 M977,770 L983,768" stroke="#7a7a7a" stroke-width="1.4" fill="none" stroke-dasharray="1.5 2.1"/>
<path d="M950,766 L953,779 M957,764 L959,781 M964,766 L966,781 M970,768 L971,777" stroke="#909090" stroke-width="1.2" fill="none" stroke-dasharray="1.4 2.4"/>
<path d="M1065.8,637.5 C1056,642 1046,647 1041,654 C1034,663 1032,671 1034,680 C1036,688 1038,694 1036,702 C1033,713 1027,725 1016.5,740 C1010,751 1006,761 1006.2,770 C1006.4,777 1008.5,782 1011.8,785.8" stroke="#151515" stroke-width="2.6" fill="none" />
<g transform="translate(1011.4,785.4) rotate(38)">
<rect x="0" y="-2.9" width="10.5" height="5.8" rx="1" fill="#fff" stroke="#2a2a2a" stroke-width="1.3"/>
</g>
<g transform="translate(1031.5,797) rotate(24)">
<path d="M-13,-3.5 C-8,-8 4,-10 10,-7.5 C15,-5 15,5 10,7.5 C4,10 -6,8.5 -14,2 Z" stroke="#2a2a2a" stroke-width="1.4" fill="#fff" />
<path d="M-8,-2 C-4,-5.5 4,-6.5 8,-4.5 C11,-2.5 11,3 8,4.8 C3,6.5 -4,4.5 -8,1 Z" stroke="#333" stroke-width="1.2" fill="none" />
<path d="M-3,-0.5 C1,-2.5 5,-2 6,0 C5,2 1,2 -3,0.5" stroke="#333" stroke-width="1.1" fill="none" />
</g>
<line x1="1044.0" y1="790.4" x2="1048.6" y2="788.2" stroke="#444" stroke-width="1.5" />
<line x1="1045.5" y1="796.0" x2="1047.5" y2="797.5" stroke="#444" stroke-width="1.5" />
<line x1="1037.0" y1="806.0" x2="1039.5" y2="807.0" stroke="#444" stroke-width="1.5" />
<polygon points="883.9,530.8 895.9,527.5 895.9,534.1" fill="#1c1c1c"/>
<polygon points="928.3,530.8 916.3,534.1 916.3,527.5" fill="#1c1c1c"/>
<line x1="894.0" y1="530.8" x2="918.0" y2="530.8" stroke="#1c1c1c" stroke-width="1.8" />
<text x="905.0" y="525.2" font-size="17.5" text-anchor="middle" >123</text>
<polygon points="883.9,559.1 894.9,555.8 894.9,562.4" fill="#1c1c1c"/>
<polygon points="909.1,559.1 898.1,562.4 898.1,555.8" fill="#1c1c1c"/>
<line x1="893.0" y1="559.1" x2="900.0" y2="559.1" stroke="#1c1c1c" stroke-width="1.8" />
<text x="897.6" y="552.5" font-size="17.5" text-anchor="middle" >68</text>
<line x1="1047.9" y1="532.1" x2="1086.0" y2="532.1" stroke="#1c1c1c" stroke-width="1.8" />
<polygon points="1036.9,532.1 1048.9,528.8 1048.9,535.4" fill="#1c1c1c"/>
<polygon points="1097.0,532.1 1085.0,535.4 1085.0,528.8" fill="#1c1c1c"/>
<text x="1065.3" y="526.0" font-size="17.5" text-anchor="middle" >169</text>
<polygon points="1065.3,560.0 1077.3,556.7 1077.3,563.3" fill="#1c1c1c"/>
<polygon points="1097.0,560.0 1085.0,563.3 1085.0,556.7" fill="#1c1c1c"/>
<line x1="1075.0" y1="560.0" x2="1087.0" y2="560.0" stroke="#1c1c1c" stroke-width="1.8" />
<text x="1080.7" y="552.3" font-size="17.5" text-anchor="middle" >68</text>
<polygon points="870.0,586.7 873.3,596.7 866.7,596.7" fill="#1c1c1c"/>
<polygon points="870.0,612.5 866.7,602.5 873.3,602.5" fill="#1c1c1c"/>
<line x1="870.0" y1="595.0" x2="870.0" y2="604.0" stroke="#1c1c1c" stroke-width="1.8" />
<text x="845.7" y="606.3" font-size="17.5" text-anchor="start" >47</text>
<line x1="830.8" y1="596.7" x2="830.8" y2="616.8" stroke="#1c1c1c" stroke-width="1.8" />
<polygon points="830.8,586.7 834.1,597.7 827.5,597.7" fill="#1c1c1c"/>
<polygon points="830.8,626.8 827.5,615.8 834.1,615.8" fill="#1c1c1c"/>
<text x="797.5" y="611.4" font-size="17.5" text-anchor="start" >86</text>
<line x1="1117.2" y1="596.7" x2="1117.2" y2="609.4" stroke="#1c1c1c" stroke-width="1.8" />
<polygon points="1117.2,586.7 1120.5,597.7 1113.9,597.7" fill="#1c1c1c"/>
<polygon points="1117.2,619.4 1113.9,608.4 1120.5,608.4" fill="#1c1c1c"/>
<text x="1122.0" y="609.2" font-size="17.5" text-anchor="start" >65</text>
<line x1="1157.6" y1="596.7" x2="1157.6" y2="627.1" stroke="#1c1c1c" stroke-width="1.8" />
<polygon points="1157.6,586.7 1160.9,597.7 1154.3,597.7" fill="#1c1c1c"/>
<polygon points="1157.6,637.1 1154.3,626.1 1160.9,626.1" fill="#1c1c1c"/>
<text x="1160.6" y="620.4" font-size="17.5" text-anchor="start" >122</text>
</g>
</g>
</svg>
</body></html>
